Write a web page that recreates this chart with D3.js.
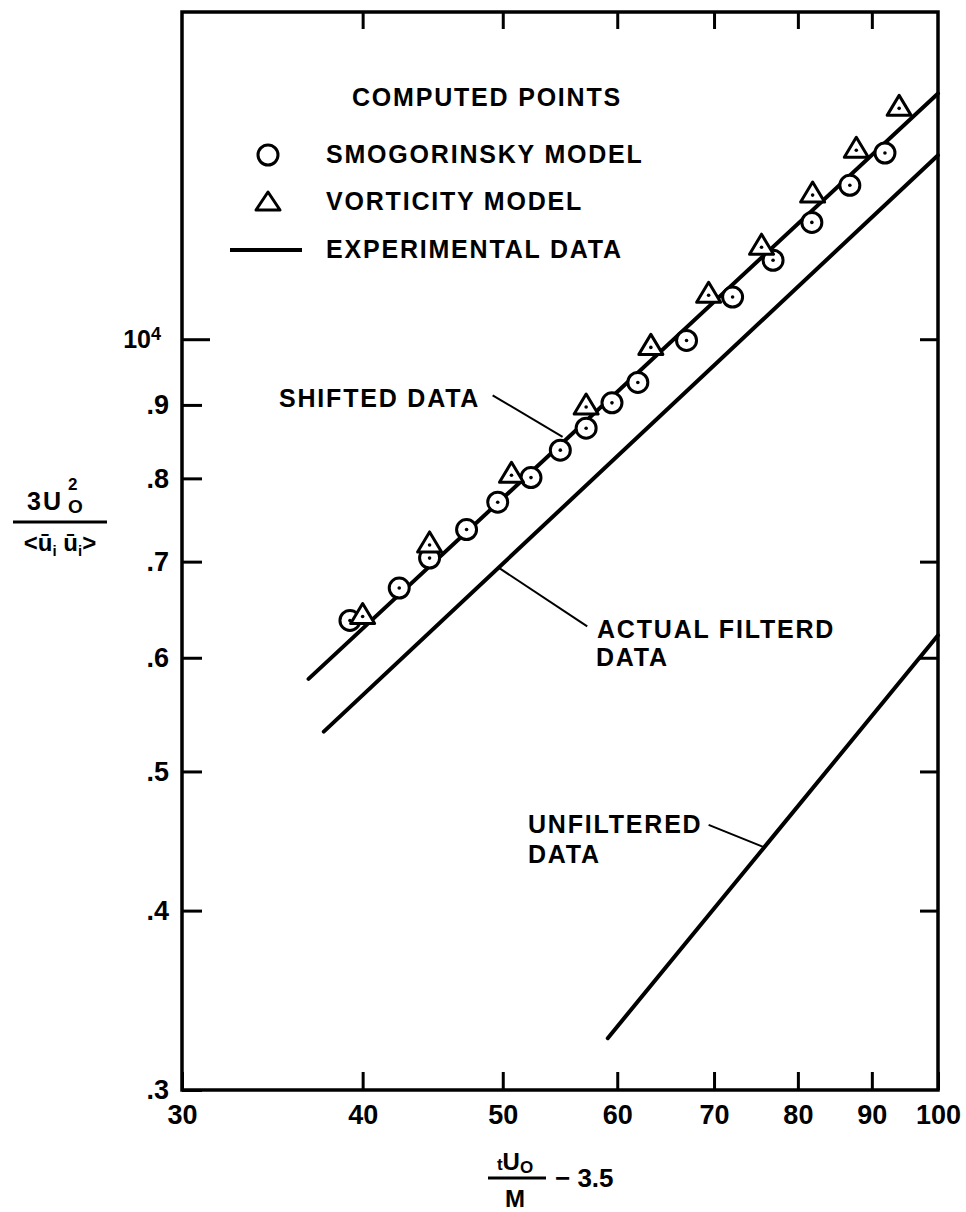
<!DOCTYPE html>
<html>
<head>
<meta charset="utf-8">
<script src="https://cdn.jsdelivr.net/npm/d3@7"></script>
<style>
  body { margin: 0; background: #fff; }
  svg { display: block; }
  text { font-family: "Liberation Sans", Arial, sans-serif; font-weight: bold; fill: #000; }
  .note { font-size: 25px; letter-spacing: 1.8px; }
</style>
</head>
<body>
<svg id="chart" width="966" height="1212"></svg>
<script>
// tick values for the log-log axes
const xTicks = [30, 40, 50, 60, 70, 80, 90, 100];
const yTicks = [0.3, 0.4, 0.5, 0.6, 0.7, 0.8, 0.9, 1.0];
const topTicks = [40, 50, 60, 70, 80, 90];
const rightTicks = [0.4, 0.5, 0.6, 0.7, 1.0];

// computed points
const smagX = [39.2, 42.4, 44.5, 47.2, 49.6, 52.3, 54.8, 57.1, 59.5, 62.0, 67.0, 72.1, 76.9, 81.8, 86.9, 91.9];
const smagY = [0.637, 0.671, 0.704, 0.737, 0.770, 0.801, 0.837, 0.867, 0.903, 0.933, 0.998, 1.070, 1.135, 1.206, 1.280, 1.348];
const vortX = [40.0, 44.5, 50.7, 57.1, 63.3, 69.4, 75.5, 81.9, 87.8, 94.0];
const vortY = [0.641, 0.719, 0.804, 0.897, 0.987, 1.073, 1.159, 1.260, 1.354, 1.448];

// experimental data lines
const shiftedX = [36.7, 100];
const shiftedY = [0.580, 1.483];
const actualX = [37.6, 100];
const actualY = [0.533, 1.343];
const unfilteredX = [59.1, 100];
const unfilteredY = [0.326, 0.622];

let svg = d3.select("#chart"),
    x = d3.scaleLog().domain([30, 100]).range([182, 938]),
    y = d3.scaleLog().domain([0.3, 1.69]).range([1090, 12]),
    line = d3.line().x(d => x(d[0])).y(d => y(d[1]));

svg.append("rect").attr("width", 966).attr("height", 1212).attr("fill", "#fff");

// *** Axes
let xAxis = svg.append("g")
    .attr("class", "axis axis--x")
    .attr("transform", "translate(0,1090)")
    .call(d3.axisBottom(x).tickValues(xTicks).tickFormat(d3.format("d"))
        .tickSizeInner(-18).tickSizeOuter(0).tickPadding(15));
let yAxis = svg.append("g")
    .attr("class", "axis axis--y")
    .attr("transform", "translate(182,0)")
    .call(d3.axisLeft(y).tickValues(yTicks)
        .tickFormat(d => d === 1 ? "10" : "." + Math.round(d * 10))
        .tickSizeInner(-20).tickSizeOuter(0).tickPadding(13));
svg.append("g")
    .attr("transform", "translate(0,12)")
    .call(d3.axisTop(x).tickValues(topTicks).tickFormat("").tickSizeInner(-17).tickSizeOuter(0));
svg.append("g")
    .attr("transform", "translate(938,0)")
    .call(d3.axisRight(y).tickValues(rightTicks).tickFormat("").tickSizeInner(-18).tickSizeOuter(0));

svg.selectAll(".domain").remove();
svg.selectAll(".tick line").attr("stroke", "#000").attr("stroke-width", 3);
svg.selectAll(".tick text").style("font-size", "27px").attr("fill", "#000");

// 10^4 label and its longer tick
let tenTick = yAxis.selectAll(".tick").filter(d => d === 1);
tenTick.select("line").attr("x2", 28);
tenTick.select("text").style("font-size", "25px").attr("dx", -8)
    .append("tspan").attr("dy", "-0.45em").style("font-size", "18px").text("4");

// frame
svg.append("rect")
    .attr("x", 182).attr("y", 12)
    .attr("width", 756).attr("height", 1078)
    .attr("fill", "none").attr("stroke", "#000").attr("stroke-width", 3.5);

// *** Experimental lines
[[shiftedX, shiftedY], [actualX, actualY], [unfilteredX, unfilteredY]].forEach(s => {
    svg.append("path")
        .datum(s[0].map((v, i) => [v, s[1][i]]))
        .attr("d", line)
        .attr("fill", "none")
        .attr("stroke", "#000")
        .attr("stroke-width", 4)
        .attr("stroke-linecap", "round");
});

// *** Markers
let triPath = "M0,-13L12,7L-12,7Z";
svg.append("g").selectAll("circle")
    .data(smagX.map((v, i) => [v, smagY[i]]))
    .enter().append("circle")
    .attr("cx", d => x(d[0])).attr("cy", d => y(d[1])).attr("r", 10)
    .attr("fill", "#fff").attr("stroke", "#000").attr("stroke-width", 3);
svg.append("g").selectAll("path")
    .data(vortX.map((v, i) => [v, vortY[i]]))
    .enter().append("path")
    .attr("transform", d => "translate(" + x(d[0]) + "," + y(d[1]) + ")")
    .attr("d", triPath)
    .attr("fill", "#fff").attr("stroke", "#000").attr("stroke-width", 3).attr("stroke-linejoin", "round");
// center dots
svg.append("g").selectAll("circle")
    .data(smagX.map((v, i) => [v, smagY[i]]).concat(vortX.map((v, i) => [v, vortY[i]])))
    .enter().append("circle")
    .attr("cx", d => x(d[0])).attr("cy", d => y(d[1])).attr("r", 1.8).attr("fill", "#000");

// *** Legend
svg.append("text").attr("class", "note").attr("x", 487).attr("y", 106).attr("text-anchor", "middle")
    .text("COMPUTED POINTS");
svg.append("circle").attr("cx", 268).attr("cy", 155).attr("r", 10)
    .attr("fill", "none").attr("stroke", "#000").attr("stroke-width", 3);
svg.append("path").attr("transform", "translate(268,203)").attr("d", "M0,-11L12,7L-12,7Z")
    .attr("fill", "none").attr("stroke", "#000").attr("stroke-width", 3).attr("stroke-linejoin", "round");
svg.append("line").attr("x1", 230).attr("x2", 302).attr("y1", 250).attr("y2", 250)
    .attr("stroke", "#000").attr("stroke-width", 4);
[["SMOGORINSKY MODEL", 163], ["VORTICITY MODEL", 210], ["EXPERIMENTAL DATA", 258]].forEach(l => {
    svg.append("text").attr("class", "note").attr("x", 326).attr("y", l[1]).text(l[0]);
});

// *** Annotations (leader ends in data units)
let leaders = [
    [[49.2, 0.914], [55.0, 0.855]],
    [[57.2, 0.631], [49.7, 0.693]],
    [[69.4, 0.459], [75.7, 0.443]]
];
leaders.forEach(l => {
    svg.append("path").datum(l).attr("d", line)
        .attr("fill", "none").attr("stroke", "#000").attr("stroke-width", 2);
});
let notes = [
    ["SHIFTED DATA", 279, 407],
    ["ACTUAL FILTERD", 597, 638],
    ["DATA", 596, 666],
    ["UNFILTERED", 528, 833],
    ["DATA", 528, 863]
];
notes.forEach(n => {
    svg.append("text").attr("class", "note").attr("x", n[1]).attr("y", n[2]).text(n[0]);
});

// *** Y axis title: 3U0^2 / <u_i u_i>
let yt = svg.append("g").attr("class", "axis--y-label");
yt.append("text").attr("x", 27).attr("y", 510).style("font-size", "25px").style("letter-spacing", "2px").text("3U");
yt.append("text").attr("x", 68).attr("y", 490).style("font-size", "17px").text("2");
yt.append("text").attr("x", 68).attr("y", 513).style("font-size", "19px").text("O");
yt.append("line").attr("x1", 13).attr("x2", 107).attr("y1", 522).attr("y2", 522)
    .attr("stroke", "#000").attr("stroke-width", 3);
let den = yt.append("text").attr("x", 60).attr("y", 551).attr("text-anchor", "middle").style("font-size", "24px");
den.append("tspan").text("<ū");
den.append("tspan").attr("dy", 5).style("font-size", "15px").text("i");
den.append("tspan").attr("dy", -5).text(" ū");
den.append("tspan").attr("dy", 5).style("font-size", "15px").text("i");
den.append("tspan").attr("dy", -5).text(">");

// *** X axis title: tU0/M - 3.5
let xt = svg.append("g").attr("class", "axis--x-label");
let num = xt.append("text").attr("x", 515).attr("y", 1170).attr("text-anchor", "middle").style("font-size", "24px");
num.append("tspan").style("font-size", "17px").text("t");
num.append("tspan").text("U");
num.append("tspan").attr("dy", 3).style("font-size", "17px").text("O");
xt.append("line").attr("x1", 488).attr("x2", 546).attr("y1", 1178).attr("y2", 1178)
    .attr("stroke", "#000").attr("stroke-width", 3);
xt.append("text").attr("x", 515).attr("y", 1207).attr("text-anchor", "middle").style("font-size", "24px").text("M");
xt.append("text").attr("x", 555).attr("y", 1187).style("font-size", "26px").text("− 3.5");
</script>
</body>
</html>
